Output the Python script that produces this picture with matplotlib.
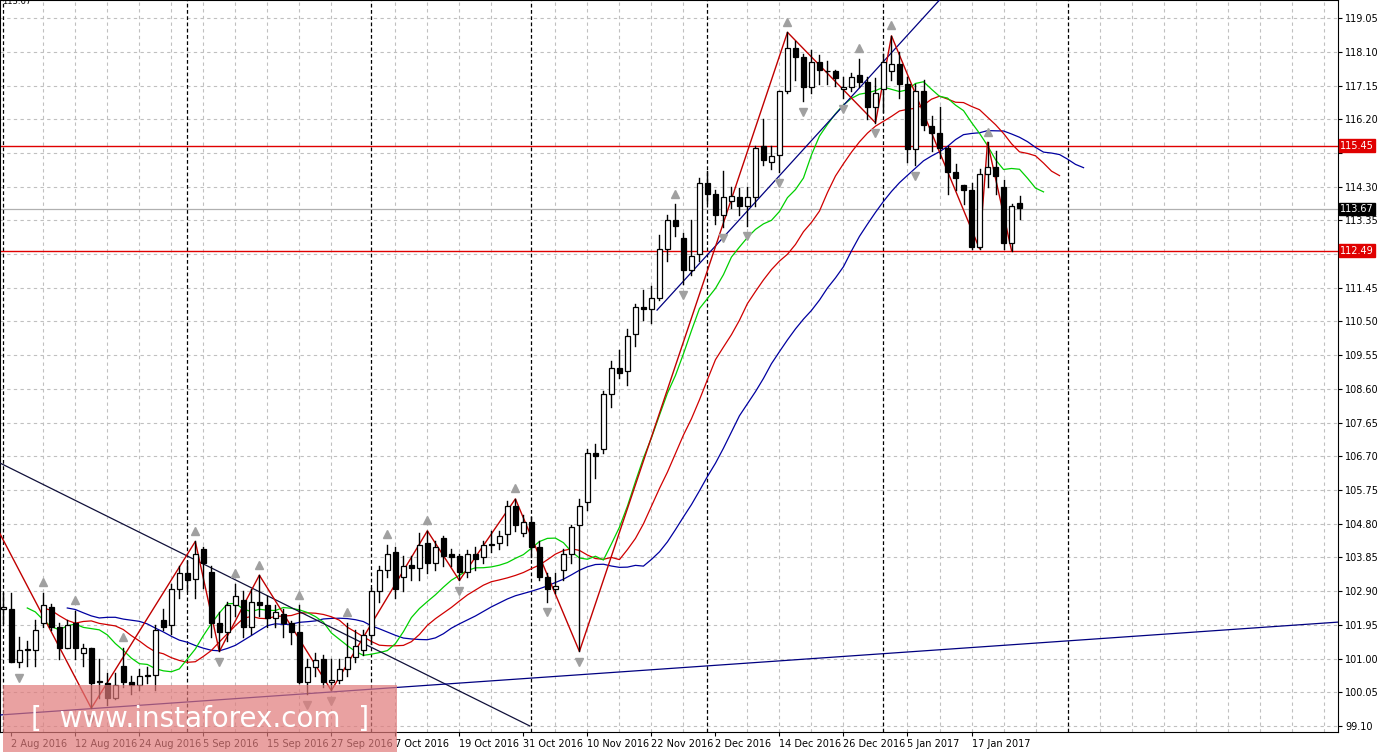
import numpy as np
import pandas as pd
import matplotlib
matplotlib.use("Agg")
import matplotlib.pyplot as plt
from matplotlib.patches import Rectangle

opens = [102.4,102.4,100.9,101.25,101.25,102.0,102.45,101.9,101.3,102.0,101.15,101.3,100.35,100.3,99.9,100.8,100.35,100.25,100.5,100.55,
         102.1,101.95,102.95,103.4,103.25,104.1,103.45,102.0,101.75,102.5,102.65,101.9,102.6,102.5,102.15,102.25,102.0,101.75,100.35,100.75,
         101.0,100.35,100.4,100.7,101.05,101.25,101.65,102.9,103.5,104.0,103.3,103.65,103.55,104.25,103.7,104.4,103.95,103.9,103.45,103.95,
         103.85,104.2,104.25,104.5,105.3,104.55,104.85,104.15,103.3,102.95,103.5,103.95,104.75,105.4,106.8,106.9,108.45,109.2,109.1,110.15,
         110.9,110.85,111.15,112.55,113.35,112.85,111.95,112.4,114.4,114.1,113.5,113.9,114.0,113.75,114.0,115.45,115.0,115.2,117.0,118.2,
         117.95,117.1,117.8,117.55,117.55,117.05,117.1,117.45,117.25,116.55,117.05,117.55,117.75,117.2,115.35,117.0,116.0,115.8,115.4,114.7,
         114.35,114.2,112.6,114.65,114.85,114.3,112.7,113.85]
closes = [102.45,100.9,101.25,101.25,101.8,102.5,101.9,101.3,101.95,101.3,101.3,100.3,100.35,99.9,100.25,100.35,100.25,100.5,100.55,101.8,
          101.9,102.95,103.4,103.2,103.95,103.7,102.0,101.75,102.5,102.75,101.9,102.6,102.5,102.15,102.3,102.0,101.75,100.35,100.75,100.95,
          100.35,100.4,100.7,101.05,101.35,101.65,102.9,103.5,103.95,102.95,103.6,103.55,104.2,103.7,104.15,103.9,103.85,103.45,103.95,103.8,
          104.2,104.2,104.45,105.3,104.75,104.85,104.15,103.3,102.95,103.05,103.95,104.7,105.3,106.8,106.7,108.45,109.2,109.05,110.1,110.9,
          110.85,111.15,112.55,113.35,113.2,111.95,112.35,114.4,114.1,113.5,114.0,114.05,113.75,114.0,115.4,115.05,115.15,117.0,118.2,117.95,
          117.1,117.8,117.6,117.55,117.35,117.1,117.4,117.25,116.55,116.95,117.8,117.75,117.2,115.35,117.0,116.05,115.8,115.4,114.7,114.55,
          114.2,112.6,114.65,114.85,114.6,112.7,113.75,113.7]
highs = [102.85,102.85,101.6,101.5,102.1,102.85,102.55,102.0,102.1,102.35,101.4,101.3,101.0,100.6,100.6,101.3,100.5,100.7,100.75,101.95,
         102.4,103.1,103.6,103.75,104.3,104.15,103.6,102.3,102.6,103.1,102.9,102.95,103.35,102.75,102.5,102.4,102.05,102.5,101.0,101.15,
         101.1,101.0,101.0,102.0,101.8,101.8,103.0,103.6,104.2,104.15,103.9,103.9,104.55,104.6,104.3,104.45,104.1,103.95,104.05,104.15,
         104.3,104.6,104.6,105.45,105.5,105.05,105.0,104.3,103.4,103.4,104.1,104.75,105.5,106.9,107.05,108.55,109.4,109.7,110.3,111.0,
         111.4,111.5,112.95,113.5,113.8,113.0,113.35,114.55,114.75,114.2,114.75,114.3,114.25,114.3,115.45,116.2,115.45,117.0,118.65,118.4,
         118.05,118.15,118.0,117.85,117.6,117.4,117.5,117.9,117.4,117.35,118.05,118.55,118.1,117.4,117.2,117.3,116.3,116.55,115.45,114.95,
         114.35,114.4,114.8,115.55,115.3,114.5,113.8,114.05]
lows = [102.0,100.9,100.75,100.8,100.8,101.9,101.8,101.0,101.3,101.0,100.8,99.6,99.9,99.7,99.85,100.2,100.0,100.1,100.3,100.1,
        101.8,101.7,102.7,102.9,102.7,103.0,101.6,101.2,101.5,102.2,101.6,101.7,102.2,101.9,101.9,101.6,101.4,100.3,100.0,100.5,
        100.2,100.1,100.3,100.5,100.9,101.1,101.4,102.6,103.3,102.7,102.9,103.2,103.2,103.4,103.5,103.6,103.6,103.2,103.3,103.5,
        103.7,104.0,104.1,104.2,104.6,104.45,103.85,103.2,102.6,102.85,103.2,103.7,101.2,105.2,106.1,106.8,108.1,108.9,108.7,109.8,
        110.55,110.45,111.1,112.2,112.9,111.55,111.8,112.2,113.85,113.25,113.15,113.7,113.5,113.2,113.75,114.9,114.8,114.7,116.95,117.3,
        116.7,116.95,117.2,117.2,117.15,116.8,117.0,117.1,116.2,116.1,116.4,117.3,116.8,115.0,114.9,115.9,115.3,115.1,114.1,114.2,
        113.8,112.55,112.55,114.3,114.1,112.55,112.5,113.4]

zz_idx = [-2, 11, 24, 27, 32, 41, 53, 57, 64, 72, 98, 109, 111, 122, 123, 126]
zz_px = [105.2, 99.6, 104.3, 101.2, 103.35, 100.1, 104.6, 103.2, 105.5, 101.2, 118.65, 116.1, 118.55, 112.55, 115.55, 112.5]

tick_vals = [99.10,100.05,101.00,101.95,102.90,103.85,104.80,105.75,106.70,107.65,108.60,109.55,110.50,111.45,
             112.40,113.35,114.30,115.25,116.20,117.15,118.10,119.05]
date_idx = [1,9,17,25,33,41,49,57,65,73,81,89,97,105,113,121]
date_lbl = ["2 Aug 2016","12 Aug 2016","24 Aug 2016","5 Sep 2016","15 Sep 2016","27 Sep 2016","7 Oct 2016",
            "19 Oct 2016","31 Oct 2016","10 Nov 2016","22 Nov 2016","2 Dec 2016","14 Dec 2016","26 Dec 2016",
            "5 Jan 2017","17 Jan 2017"]
month_sep = [0, 23, 46, 66, 88, 110, 133]
levels_red = [115.45, 112.49]
last_price = 113.67
trend_lines = [((-0.41, 106.51), (65.8, 99.1), "#10103a"),
               ((-0.41, 99.41), (167, 102.03), "#000080"),
               ((81.7, 110.82), (117.0, 119.56), "#000080")]

W, H = 1382, 754
fig = plt.figure(figsize=(W/100, H/100), dpi=100)
ax = fig.add_axes([0, 22/H, 1338/W, 1 - 22/H])
n = len(closes)
x = np.arange(n)
ymin, ymax = 98.93, 119.56
ax.set_xlim(-0.41, 166.8)
ax.set_ylim(ymin, ymax)

for g in range(1, 167, 4):
    if min(abs(g - m) for m in month_sep) > 1:
        ax.axvline(g, color="#c0c0c0", ls=(0, (3, 3)), lw=0.8, zorder=0)
for t in tick_vals:
    ax.axhline(t, color="#c0c0c0", ls=(0, (3, 3)), lw=0.8, zorder=0)
for m in month_sep:
    ax.axvline(m, color="black", ls=(0, (3, 2)), lw=0.9, zorder=1)

for lv in levels_red:
    ax.axhline(lv, color="#e00000", lw=1.0, zorder=2)
ax.axhline(last_price, color="#b0b0b0", lw=0.9, zorder=2)

med = pd.Series((np.array(highs) + np.array(lows)) / 2)
for per, sh, col in [(13, 8, "#0000a0"), (8, 5, "#d00000"), (5, 3, "#00d000")]:
    sm = med.ewm(alpha=1/per, adjust=False).mean().values
    ax.plot(x + sh, sm, color=col, lw=0.9, zorder=3)

for (x0, y0), (x1, y1), col in trend_lines:
    ax.plot([x0, x1], [y0, y1], color=col, lw=0.9, zorder=3)

ax.plot(zz_idx, zz_px, color="#c00000", lw=1.0, zorder=4)

for i in range(n):
    o, c, h, l = opens[i], closes[i], highs[i], lows[i]
    ax.plot([i, i], [l, h], color="black", lw=1.0, zorder=5)
    bot, top = min(o, c), max(o, c)
    ht = max(top - bot, 0.02)
    fc = "white" if c >= o else "black"
    ax.add_patch(Rectangle((i - 0.32, bot), 0.64, ht, facecolor=fc, edgecolor="black", lw=0.9, zorder=6))

for i in range(2, n - 2):
    if highs[i] == max(highs[i-2:i+3]) and highs[i] > max(highs[i-2:i] + highs[i+1:i+3]):
        ax.plot(i, highs[i] + 0.3, marker="^", color="#a0a0a0", ms=6, zorder=7)
    if lows[i] == min(lows[i-2:i+3]) and lows[i] < min(lows[i-2:i] + lows[i+1:i+3]):
        ax.plot(i, lows[i] - 0.3, marker="v", color="#a0a0a0", ms=6, zorder=7)

ax.yaxis.tick_right()
ax.set_yticks(tick_vals)
ax.set_yticklabels([f"{t:.2f}" for t in tick_vals], fontsize=7)
ax.tick_params(axis="y", length=3, pad=2)
ax.set_xticks(date_idx)
ax.set_xticklabels(date_lbl, fontsize=7, ha="left")
ax.tick_params(axis="x", length=3, pad=2)
for s in ax.spines.values():
    s.set_linewidth(0.8)

# hide tick labels hidden behind price boxes
for lab, t in zip(ax.get_yticklabels(), tick_vals):
    if any(abs(t - p) < 0.3 for p in levels_red + [last_price]):
        lab.set_visible(False)

def price_box(p, fc):
    yf = (22 + (p - ymin) / (ymax - ymin) * (H - 22)) / H
    fig.text(1340/W, yf, f"{p:.2f}", fontsize=7, color="white", va="center", ha="left",
             bbox=dict(boxstyle="square,pad=0.15", fc=fc, ec=fc), zorder=10)
for lv in levels_red:
    price_box(lv, "#e00000")
price_box(last_price, "black")

fig.text(2/W, 1 - 2/H, "113.67", fontsize=6, va="center", ha="left")

fig.patches.append(Rectangle((3/W, 2/H), 394/W, 67/H, transform=fig.transFigure,
                             facecolor="#e07a7a", alpha=0.7, edgecolor="none", zorder=20))
fig.text(200/W, 35/H, "[  www.instaforex.com  ]", fontsize=20, color="white", ha="center", va="center", zorder=21)

fig.savefig("out.png", dpi=100)
